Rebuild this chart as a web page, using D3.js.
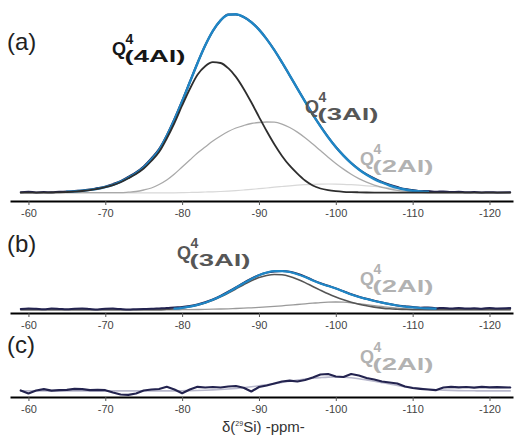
<!DOCTYPE html>
<html><head><meta charset="utf-8">
<script src="https://cdn.jsdelivr.net/npm/d3@7"></script>
<style>html,body{margin:0;padding:0;background:#fff;}svg{display:block;}</style>
</head><body>
<svg id="chart" width="514" height="439"></svg>
<script>
// chemical shift grid (ppm)
const ppm = [-59,-60,-61,-62,-63,-64,-65,-66,-67,-68,-69,-70,-71,-72,-73,-74,-75,-76,-77,-78,
  -79,-80,-81,-82,-83,-84,-85,-86,-87,-88,-89,-90,-91,-92,-93,-94,-95,-96,-97,-98,
  -99,-100,-101,-102,-103,-104,-105,-106,-107,-108,-109,-110,-111,-112,-113,-114,-115,-116,-117,-118,
  -119,-120,-121,-122.7];
const tickValues = [-60,-70,-80,-90,-100,-110,-120];
const tickLabels = ["-60","-70","-80","-90","-100","-110","-120"];
const panelLabels = ["(a)","(b)","(c)"];

// Panel (a)
const aExperimental = [.8,1.2,.6,.9,.8,1.3,1.4,2.0,2.6,3.4,
  4.9,6.4,8.9,11.8,16.1,20.6,26.5,34.5,43.9,57.6,
  74,92,111,130,147.5,162,172.5,178.5,178.5,176,
  171,163.5,154,143,130.5,117.5,104.5,91.5,78.5,67,
  56,46,37.5,30,23.8,18.6,14.5,11,8.3,6.0,
  3.9,2.9,1.8,2.0,1.2,1.6,.9,1.3,.7,.9,
  .6,.8,.6,.7];
const aFitTotal = [.5,.5,.5,.6,.7,.9,1.2,1.6,2.2,3.1,
  4.3,6.0,8.2,11.3,15.3,19.8,25.6,33.7,42.8,56.9,
  73.3,91.5,110.7,129.8,147.4,162.1,172.7,178.3,178.7,176.0,
  170.8,163.4,153.9,142.8,130.6,117.7,104.4,91.3,78.6,66.7,
  55.8,45.9,37.3,29.8,23.5,18.2,13.9,10.5,7.5,5.2,
  3.5,2.3,1.6,1.2,1.0,.8,.7,.6,.6,.5,
  .5,.5,.5,.5];
const aQ4_4Al = [.3,.3,.3,.4,.5,.7,1.0,1.4,2.0,2.9,
  4.1,5.8,7.9,10.8,14.7,19,24.5,32,41,54.5,
  70,87.5,104,118.3,126.8,130.8,130,124.8,116.1,104.3,
  90.7,76.2,62,48.8,37.1,27.3,19.4,12.5,7.5,4.5,
  2.8,1.8,1.2,.9,.7,.5,.4,.4,.4,.4,
  .4,.4,.4,.4,.4,.4,.4,.4,.4,.4,
  .4,.4,.4,.4];
const aQ4_3Al = [.3,.3,.3,.3,.3,.3,.3,.3,.3,.3,
  .3,.3,.3,.3,.8,1.5,3,5,8.5,13,
  19,26,33,40,46,52,57,61.5,65,67.5,
  69.5,70.5,71,70.8,68.9,65.5,60.9,55.3,49,42.4,
  35.8,29.6,23.9,18.8,14.4,10.8,7.9,5.7,4.0,2.7,
  1.8,1.2,.8,.5,.3,.3,.3,.3,.3,.3,
  .3,.3,.3,.3];
const aQ4_2Al = [.2,.2,.2,.2,.2,.2,.2,.2,.2,.2,
  .2,.2,.2,.2,.2,.2,.2,.2,.2,.2,
  .2,.3,.5,.7,1.0,1.2,1.5,1.9,2.4,3.0,
  3.6,4.3,5.0,5.8,6.5,7.2,7.8,8.3,8.7,8.9,
  9.0,8.9,8.7,8.3,7.8,7.2,6.5,5.8,5.0,4.3,
  3.6,3.0,2.4,1.9,1.5,1.2,1.0,.7,.5,.3,
  .2,.2,.2,.2];

// Panel (b)
const bExperimental = [1.0,1.5,1.2,.8,1.4,1.1,.7,1.3,1.5,1.0,
  .6,1.2,1.4,.9,.5,.8,1.0,1.2,1.6,2.0,
  2.6,3.0,4.0,5.5,7.8,10.6,14.2,18.3,22.6,27.2,
  31.3,34.9,37.4,38.6,38.9,38.2,36.2,33.4,29.9,26.8,
  24.2,21.6,18.7,15.8,13.3,11.2,9.3,7.6,6.0,4.6,
  3.8,2.9,2.3,2.6,1.7,2.1,1.5,2.0,1.4,1.8,
  1.3,2.1,1.5,1.9];
const bFitTotal = [.3,.3,.3,.3,.3,.3,.3,.3,.3,.3,
  .3,.3,.3,.3,.3,.3,.3,.4,.6,.8,
  1.3,2.2,3.4,5.1,7.3,10.2,13.8,17.8,22.3,26.8,
  31.1,34.7,37.4,38.8,38.8,38.0,35.8,33.0,29.5,26.5,
  24.0,21.5,18.5,15.5,13.0,11.0,9.0,7.3,5.8,4.5,
  3.4,2.6,2.0,1.6,1.3,1.1,1.0,1.0,1.0,1.0,
  1.0,1.0,1.0,1.0];
const bQ4_3Al = [.2,.2,.2,.2,.2,.2,.2,.2,.2,.2,
  .2,.2,.2,.2,.2,.2,.2,.2,.2,.7,
  1.2,2.0,3.2,4.8,7.0,9.7,13.1,17.0,21.1,25.3,
  29.2,32.4,34.5,35.5,35.2,33.6,30.8,27.4,23.5,19.8,
  16.2,13,10.2,7.8,5.8,4.2,2.9,1.9,1.2,.8,
  .5,.3,.3,.3,.3,.3,.3,.3,.3,.3,
  .3,.3,.3,.3];
const bQ4_2Al = [.2,.2,.2,.2,.2,.2,.2,.2,.2,.2,
  .2,.2,.2,.2,.2,.2,.2,.2,.2,.2,
  .2,.3,.4,.5,.6,.8,1.0,1.2,1.5,1.8,
  2.2,2.6,3.1,3.6,4.2,4.9,5.5,6.2,6.8,7.4,
  7.8,8.0,7.8,7.2,6.3,5.3,4.4,3.5,2.6,1.9,
  1.3,.9,.6,.4,.3,.3,.3,.3,.3,.3,
  .3,.3,.3,.3];

// Panel (c)
const cResidual = [.5,-2.5,.5,1.8,.3,.8,1.2,2.2,1.8,.8,
  1.2,.8,-1.5,-3.5,-3.8,-2.5,.5,1.5,2,4.2,
  1.5,-2.2,1.5,4.2,3.5,4,3.5,4.5,5,3.2,
  -.5,4,5.5,7.5,9.5,10.3,9.5,11,13.5,16.5,
  17,14.5,14,17,15.5,13,11.5,9.5,8.5,7.5,
  4.5,3,2.2,1.5,.8,3.5,4.2,3.6,4,3.4,
  4.2,3.6,3.8,3.5];
const cQ4_2Al = [.1,.1,.1,.1,.1,.1,.1,.1,.1,.1,
  .1,.1,.1,.1,.1,.1,.1,.1,.1,.1,
  .1,.3,.4,.55,.8,1.1,1.5,2.0,2.6,3.3,
  4.2,5.2,6.3,7.4,8.6,9.8,10.9,11.9,12.7,13.4,
  13.9,14.0,13.8,13.2,12.3,11.1,9.8,8.4,7.0,5.6,
  4.4,3.4,2.5,1.8,1.3,.9,.6,.4,.3,.2,
  .1,.1,.1,.1];

const FONT = "Arial, 'Liberation Sans', Helvetica, sans-serif";
const svg = d3.select("#chart");
const x = d3.scaleLinear().domain([-57.6, -123.06]).range([10, 513]);

function yScale(base) { return d3.scaleLinear().domain([0, 100]).range([base, base - 100]); }

function drawLine(values, y, color, width, curve, minShown) {
  const line = d3.line().x((d, i) => x(ppm[i])).y(d => y(d)).curve(curve)
    .defined(d => minShown === undefined || d > minShown);
  svg.append("path").datum(values).attr("d", line)
    .attr("fill", "none").attr("stroke", color).attr("stroke-width", width)
    .attr("stroke-linejoin", "round").attr("stroke-linecap", "round");
}

function drawAxis(yPos) {
  const g = svg.append("g").attr("transform", `translate(0,${yPos})`)
    .call(d3.axisBottom(x).tickValues(tickValues).tickFormat((d, i) => tickLabels[i])
      .tickSize(4).tickSizeOuter(0).tickPadding(4));
  g.select(".domain").attr("stroke", "#000").attr("stroke-width", 2);
  g.selectAll(".tick line").attr("stroke", "#555");
  g.selectAll(".tick text").attr("font-family", FONT).attr("font-size", 11).attr("fill", "#444");
}

function qLabel(qx, qy, sub, color) {
  svg.append("text").attr("x", qx).attr("y", qy).attr("font-family", FONT).attr("font-weight", "bold")
    .attr("font-size", 18).attr("fill", color).text("Q");
  svg.append("text").attr("x", qx + 13.5).attr("y", qy - 11).attr("font-family", FONT).attr("font-weight", "bold")
    .attr("font-size", 14).attr("fill", color).text("4");
  svg.append("text").attr("x", qx + 12.5).attr("y", qy + 6.5).attr("font-family", FONT).attr("font-weight", "bold")
    .attr("font-size", 16).attr("fill", color)
    .attr("textLength", 61).attr("lengthAdjust", "spacingAndGlyphs").text(sub);
}

function panelLabel(txt, ly) {
  svg.append("text").attr("x", 7).attr("y", ly).attr("font-family", FONT)
    .attr("font-size", 24).attr("fill", "#222").text(txt);
}

const NAVY = "#23234f", BLUE = "#1f86c6";

// ---- Panel (a)
const ya = yScale(193);
drawLine(aQ4_2Al, ya, "#d8d8d8", 1.2, d3.curveMonotoneX);
drawLine(aQ4_3Al, ya, "#a9a9a9", 1.3, d3.curveMonotoneX);
drawLine(aExperimental, ya, NAVY, 2, d3.curveMonotoneX);
drawLine(aFitTotal, ya, BLUE, 2.4, d3.curveMonotoneX, 1.1);
drawLine(aQ4_4Al, ya, "#2e2e2e", 1.8, d3.curveMonotoneX);
drawAxis(201);
panelLabel(panelLabels[0], 50);
qLabel(112, 55, "(4Al)", "#161616");
qLabel(305, 113, "(3Al)", "#565656");
qLabel(360, 165, "(2Al)", "#b2b2b2");

// ---- Panel (b)
const yb = yScale(310);
drawLine(bQ4_2Al, yb, "#9a9a9a", 1.3, d3.curveMonotoneX);
drawLine(bQ4_3Al, yb, "#555555", 1.6, d3.curveMonotoneX);
drawLine(bExperimental, yb, NAVY, 2, d3.curveMonotoneX);
drawLine(bFitTotal, yb, BLUE, 2.2, d3.curveMonotoneX, 1.2);
drawAxis(313);
panelLabel(panelLabels[1], 252);
qLabel(177, 259, "(3Al)", "#565656");
qLabel(360, 285, "(2Al)", "#b2b2b2");

// ---- Panel (c)
const yc = yScale(391);
drawLine(cQ4_2Al, yc, "#b8b8cc", 1.6, d3.curveMonotoneX);
drawLine(cResidual, yc, NAVY, 2.2, d3.curveLinear);
drawAxis(397);
panelLabel(panelLabels[2], 353);
qLabel(360, 363, "(2Al)", "#b2b2b2");

// x-axis title
const t = svg.append("text").attr("x", 222).attr("y", 432).attr("font-family", FONT)
  .attr("font-size", 15).attr("fill", "#333");
t.append("tspan").text("δ(");
t.append("tspan").attr("font-size", 7).attr("dy", -6).text("29");
t.append("tspan").attr("dy", 6).text("Si) -ppm-");
</script>
</body></html>
